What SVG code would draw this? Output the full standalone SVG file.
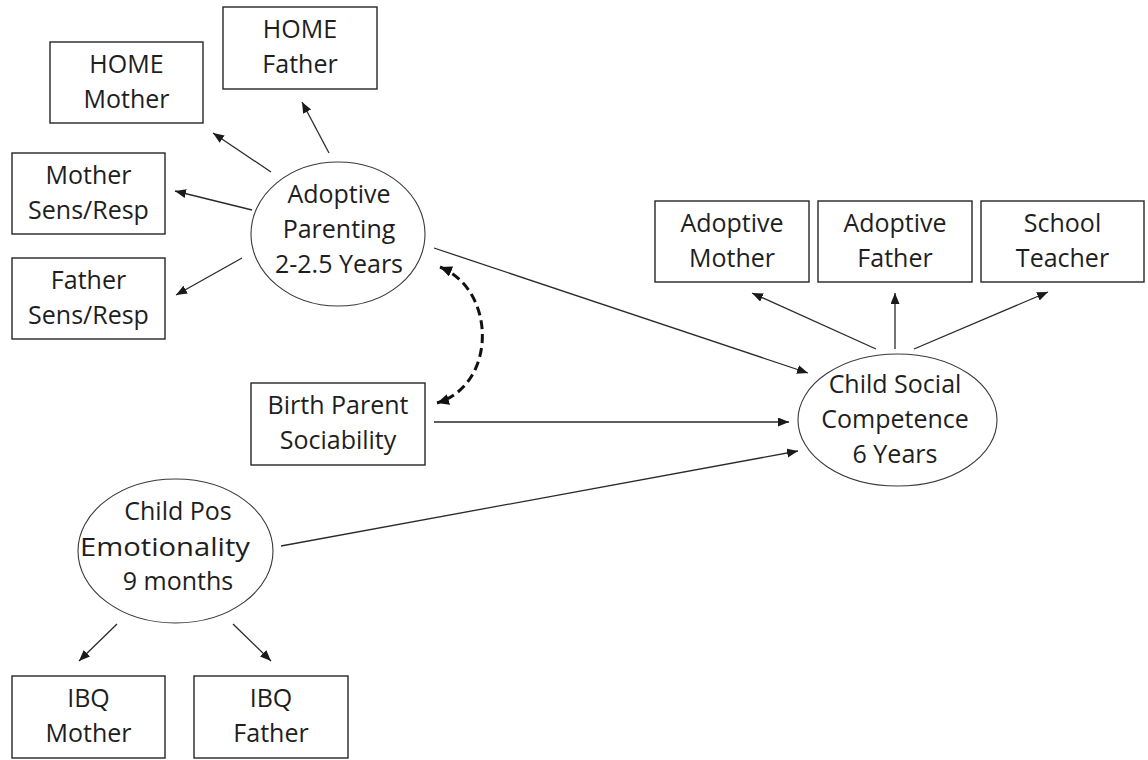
<svg xmlns="http://www.w3.org/2000/svg" width="1148" height="760" viewBox="0 0 1148 760">
<defs>
<style>
.box{fill:#fff;stroke:#262626;stroke-width:1.4}
.ell{fill:#fff;stroke:#3a3a3a;stroke-width:1.1}
.t{font-family:"Open Sans","Liberation Sans",sans-serif;font-size:25px;fill:#1e1e1e;text-anchor:middle}
.c{stroke:#2a2a2a;stroke-width:1.3;fill:none;marker-end:url(#ah)}
.d{stroke:#111;stroke-width:3;fill:none;stroke-dasharray:9 5;marker-start:url(#ah2);marker-end:url(#ah2)}
</style>
<marker id="ah" markerUnits="userSpaceOnUse" markerWidth="12" markerHeight="10" refX="11" refY="4.5" orient="auto">
<path d="M0,0 L11,4.5 L0,9 z" fill="#1a1a1a"/>
</marker>
<marker id="ah2" markerUnits="userSpaceOnUse" markerWidth="14" markerHeight="12" refX="12" refY="5.5" orient="auto-start-reverse">
<path d="M0,0 L12,5.5 L0,11 z" fill="#111"/>
</marker>
</defs>
<rect width="1148" height="760" fill="#fff"/>
<g id="connectors">
<line class="c" x1="329" y1="153" x2="302" y2="102"/>
<line class="c" x1="271" y1="172" x2="213" y2="133"/>
<line class="c" x1="252" y1="210" x2="175" y2="191"/>
<line class="c" x1="242" y1="258" x2="176" y2="295"/>
<line class="c" x1="434" y1="248" x2="808" y2="373"/>
<line class="c" x1="434" y1="422" x2="789" y2="422"/>
<line class="c" x1="281" y1="546" x2="798" y2="451"/>
<line class="c" x1="876" y1="349" x2="752" y2="293"/>
<line class="c" x1="895" y1="349" x2="895" y2="293"/>
<line class="c" x1="914" y1="349" x2="1048" y2="292"/>
<line class="c" x1="117" y1="624" x2="79" y2="661"/>
<line class="c" x1="233" y1="624" x2="271" y2="661"/>
<path class="d" d="M440,267 C497,290 497,385 437,403"/>
</g>
<g id="home-father"><rect class="box" x="223" y="7" width="154" height="82"/><text class="t" x="300" y="38">HOME</text><text class="t" x="300" y="73">Father</text></g>
<g id="home-mother"><rect class="box" x="50" y="42" width="153" height="81"/><text class="t" x="126.5" y="73">HOME</text><text class="t" x="126.5" y="108">Mother</text></g>
<g id="mother-sens"><rect class="box" x="12" y="153" width="153" height="81"/><text class="t" x="88.5" y="184">Mother</text><text class="t" x="88.5" y="219">Sens/Resp</text></g>
<g id="father-sens"><rect class="box" x="12" y="258" width="153" height="81"/><text class="t" x="88.5" y="289">Father</text><text class="t" x="88.5" y="324">Sens/Resp</text></g>
<g id="adoptive-parenting"><ellipse class="ell" cx="338" cy="234" rx="87" ry="72"/><text class="t" x="339" y="203">Adoptive</text><text class="t" x="339" y="238">Parenting</text><text class="t" x="339" y="273">2-2.5 Years</text></g>
<g id="birth-parent"><rect class="box" x="251" y="383" width="174" height="82"/><text class="t" x="338" y="414">Birth Parent</text><text class="t" x="338" y="449">Sociability</text></g>
<g id="adoptive-mother"><rect class="box" x="655" y="201" width="154" height="81"/><text class="t" x="732" y="232">Adoptive</text><text class="t" x="732" y="267">Mother</text></g>
<g id="adoptive-father"><rect class="box" x="818" y="201" width="154" height="81"/><text class="t" x="895" y="232">Adoptive</text><text class="t" x="895" y="267">Father</text></g>
<g id="school-teacher"><rect class="box" x="981" y="201" width="163" height="81"/><text class="t" x="1062.5" y="232">School</text><text class="t" x="1062.5" y="267">Teacher</text></g>
<g id="child-social"><ellipse class="ell" cx="897.5" cy="420" rx="99.5" ry="66"/><text class="t" x="895" y="393">Child Social</text><text class="t" x="895" y="428">Competence</text><text class="t" x="895" y="463">6 Years</text></g>
<g id="child-pos"><ellipse class="ell" cx="175.5" cy="551" rx="97.5" ry="72"/><text class="t" x="178" y="520">Child Pos</text><text class="t" x="165" y="556" textLength="170" lengthAdjust="spacingAndGlyphs">Emotionality</text><text class="t" x="178" y="590">9 months</text></g>
<g id="ibq-mother"><rect class="box" x="12" y="676" width="153" height="82"/><text class="t" x="88.5" y="707">IBQ</text><text class="t" x="88.5" y="742">Mother</text></g>
<g id="ibq-father"><rect class="box" x="194" y="676" width="154" height="82"/><text class="t" x="271" y="707">IBQ</text><text class="t" x="271" y="742">Father</text></g>
</svg>
